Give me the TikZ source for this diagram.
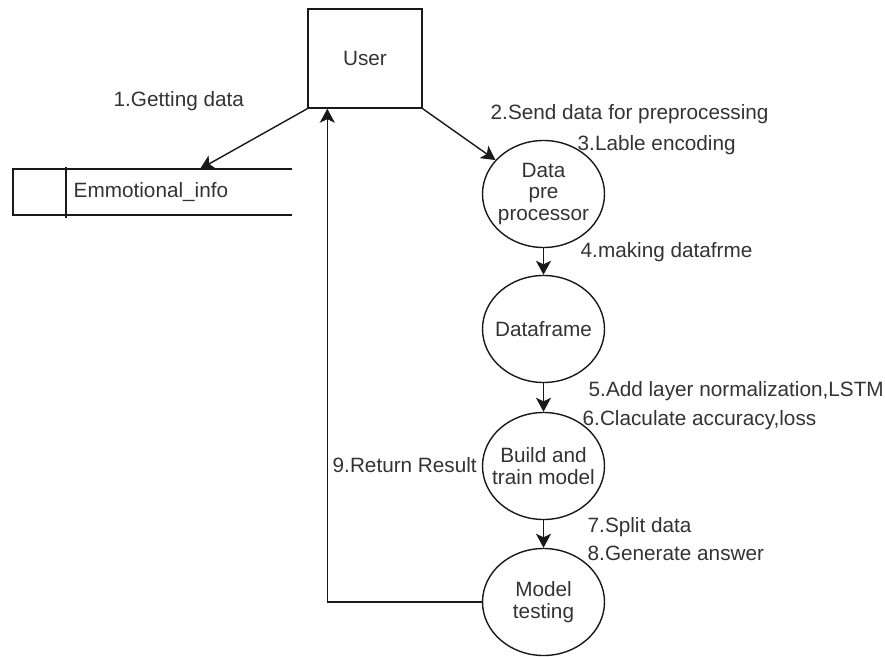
\documentclass[tikz,border=0pt]{standalone}
\usepackage{fontspec}
\setmainfont{Liberation Sans}
\usetikzlibrary{arrows.meta,shapes.geometric}

\tikzset{
	flow/.style={draw, ellipse, minimum width=2.44cm, minimum height=2.14cm, align=center, inner xsep=-0.2cm, inner ysep=0pt},
	lbl/.style={anchor=west, inner sep=0pt},
	arr/.style={-{Stealth[length=0.28cm,width=0.3cm,inset=0.07cm]}}
}

\begin{document}
\begin{tikzpicture}[x=1cm,y=-1cm, line width=0.8pt, draw=black!90,
	every node/.style={font=\fontsize{11.8}{12.3}\selectfont, text=black!80}]

			\useasboundingbox (0,0) rectangle (17.7,13.14);

			\node[draw, minimum width=2.28cm, minimum height=1.98cm] (user) at (7.3,1.17) {User};

			\node[flow] (pre) at (10.87,3.88) {Data\\pre\\processor};
			\node[flow] (df) at (10.87,6.58) {Dataframe};
			\node[flow] (build) at (10.87,9.32) {Build and\\train model};
			\node[flow] (test) at (10.87,12.04) {Model\\testing};

			\draw [-] (5.84,3.38) -- (0.26,3.38) -- (0.26,4.3) -- (5.84,4.3);
			\draw [-] (1.32,3.34) -- (1.32,4.36);
			\node[lbl] (info) at (1.46,3.84) {Emmotional\_info};
			\coordinate (infotop) at (4.0,3.38);

			\draw [arr] (user.south west) -- (infotop);
			\draw [arr] (user.south east) -- (pre);
			\draw [arr] (pre.south) -- (df.north);
			\draw [arr] (df.south) -- (build.north);
			\draw [arr] (build.south) -- (test.north);
			\draw [arr] (test.west) -| ([xshift=0.4cm]user.south west);

			\node[lbl] (l1) at (2.26,2.02) {1.Getting data};
			\node[lbl] (l2) at (9.8,2.28) {2.Send data for preprocessing};
			\node[lbl] (l3) at (11.54,2.9) {3.Lable encoding};
			\node[lbl] (l4) at (11.6,5.04) {4.making datafrme};
			\node[lbl] (l5) at (11.76,7.82) {5.Add layer normalization,LSTM};
			\node[lbl] (l6) at (11.64,8.4) {6.Claculate accuracy,loss};
			\node[lbl] (l7) at (11.74,10.54) {7.Split data};
			\node[lbl] (l8) at (11.74,11.06) {8.Generate answer};
			\node[lbl] (l9) at (6.64,9.3) {9.Return Result};

	\end{tikzpicture}
\end{document}
